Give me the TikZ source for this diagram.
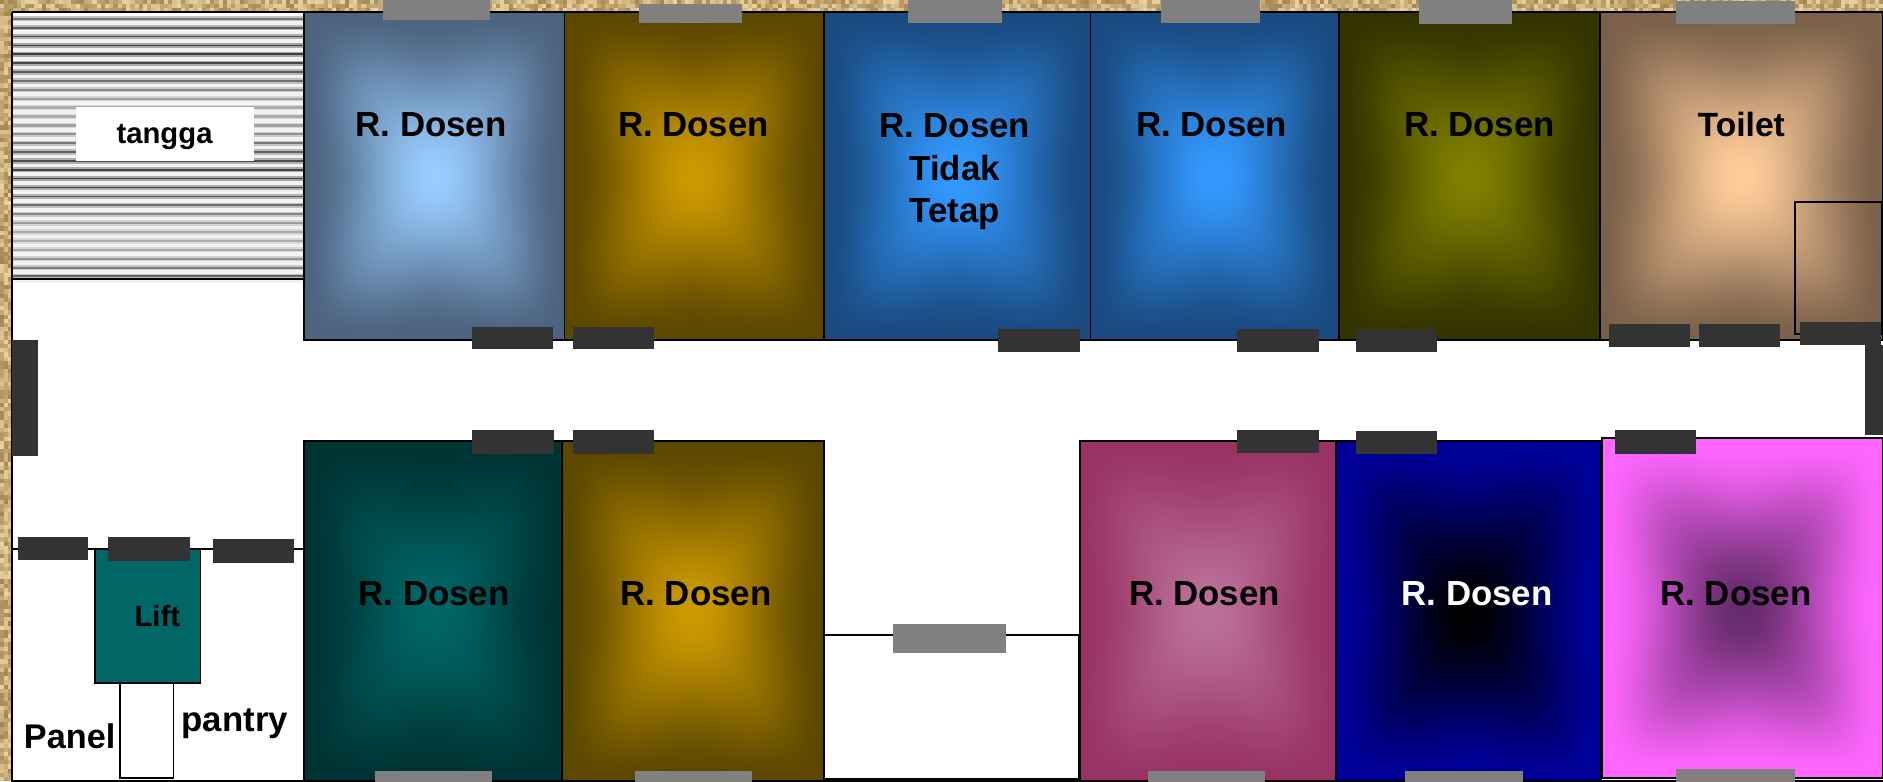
\documentclass[tikz,border=0pt]{standalone}
\usepackage{fontspec}
\setmainfont{Liberation Sans}
\definecolor{texA}{HTML}{EAD3A0}
\definecolor{texB}{HTML}{A38550}
\definecolor{doorc}{HTML}{333333}
\definecolor{winc}{HTML}{808080}
\definecolor{liftc}{HTML}{006666}
% rectangular "from centre" gradient; args: name, outer r g b, inner r g b
\newcommand{\roomshade}[7]{%
  \pgfdeclarefunctionalshading{#1}{\pgfpointorigin}{\pgfpoint{100bp}{100bp}}{}{%
    50 sub abs 25 div exch 50 sub abs 25 div
    1 index dup mul
    1 index dup mul add
    2 index 2 index mul dup mul
    1 4 index sub
    1 4 index sub
    mul 10 mul 1 add mul
    sub abs sqrt
    exch pop exch pop
    dup dup mul exch 2 mul 3 exch sub mul
    dup #2 #5 sub mul #5 add exch
    dup #3 #6 sub mul #6 add exch
    #4 #7 sub mul #7 add
  }}
\roomshade{gA}{0.30}{0.39}{0.50}{0.60}{0.80}{1.00}
\roomshade{gB}{0.36}{0.28}{0.00}{0.80}{0.60}{0.00}
\roomshade{gC}{0.10}{0.29}{0.50}{0.20}{0.60}{1.00}
\roomshade{gD}{0.20}{0.20}{0.00}{0.50}{0.50}{0.00}
\roomshade{gE}{0.48}{0.38}{0.29}{1.00}{0.80}{0.60}
\roomshade{gF}{0.00}{0.20}{0.20}{0.00}{0.40}{0.40}
\roomshade{gG}{0.60}{0.20}{0.40}{0.73}{0.44}{0.60}
\roomshade{gH}{0.00}{0.00}{0.60}{0.00}{0.00}{0.00}
\roomshade{gI}{1.00}{0.40}{1.00}{0.40}{0.17}{0.42}
\tikzset{
  roomlabel/.style={font=\fontsize{29}{35.5}\selectfont\bfseries,align=center,inner sep=0pt},
  smalllabel/.style={font=\fontsize{24.4}{29}\selectfont\bfseries,inner sep=0pt},
  door/.style={fill=doorc},
  window/.style={fill=winc},
  wall/.style={draw=black,line width=1.5pt},
}
\newcommand{\room}[5]{\path[wall,shading=#1] (#2,#3) rectangle (#4,#5);}
\newcommand{\rbox}[5]{\path[#1] (#2,#3) rectangle (#4,#5);}
\begin{document}
\begin{tikzpicture}[x=1pt,y=-1pt]
\useasboundingbox (0,0) rectangle (1568,651.15);
% textured surround
\pgfmathsetseed{4242}
\foreach \xx in {0,3.5,...,1566}{
  \foreach \yy in {0,3.5,7}{
    \pgfmathrandominteger{\rr}{0}{100}
    \fill[texA!\rr!texB] (\xx,\yy) rectangle ++(3.6,3.6);
  }
}
\foreach \yy in {10,13.5,...,650}{
  \foreach \xx in {0,3.5,7}{
    \pgfmathrandominteger{\rr}{0}{100}
    \fill[texA!\rr!texB] (\xx,\yy) rectangle ++(3.6,3.6);
  }
}
% floor
\fill[white] (10,10) rectangle (1568,651.15);
% stairs
\foreach \ii in {0,...,29}{
  \pgfmathsetmacro{\yy}{15.6+7.4*\ii}
  \pgfmathsetmacro{\ang}{(\yy-42)*3.43}
  \pgfmathtruncatemacro{\dk}{55+22*cos(\ang)}
  \pgfmathsetmacro{\wd}{1.7-0.4*cos(\ang)}
  \pgfmathtruncatemacro{\soft}{\dk*0.45}
  \fill[black!\soft] (10.5,\yy-2.2) rectangle (252,\yy+2.2);
  \fill[black!5] (10.5,\yy+2.2) rectangle (252,\yy+5.2);
  \fill[black!\dk] (10.5,\yy-\wd/2) rectangle (252,\yy+\wd/2);
}
\node[fill=white,minimum width=148pt,minimum height=45pt,inner sep=0pt] (tanggabox) at (137.5,111.5) {};
\path[wall] (10,232) -- (253,232);
% rooms, upper row
\room{gA}{253}{10}{470}{283}
\room{gB}{470}{10}{686}{283}
\room{gC}{686}{10}{908}{283}
\room{gC}{908}{10}{1114.5}{283}
\room{gD}{1115}{10}{1332}{283}
\room{gE}{1332}{10}{1568}{283}
\path[wall] (1494.5,168) rectangle (1567,278);
% rooms, lower row
\room{gF}{253}{367.5}{468}{652}
\room{gB}{468}{367.5}{686}{652}
\room{gG}{899}{367.5}{1112}{650}
\room{gH}{1112.5}{367.5}{1333}{651}
\room{gI}{1334}{364.5}{1568}{648}
\path[wall,fill=white] (686.5,529) rectangle (898,649);
% service block
\path[wall] (10,457) -- (253,457);
\path[wall] (10,10) -- (10,651);
\path[wall] (10,10) -- (1568,10);
\path[wall] (10,650.5) -- (1568,650.5);
\path[wall,fill=liftc] (79,457) rectangle (167,569);
\path[wall,fill=white] (100,569) rectangle (144.5,648);
% doors
\rbox{door}{393}{272}{460.5}{291}
\rbox{door}{477}{272}{545}{291}
\rbox{door}{831}{274}{899}{293}
\rbox{door}{1030}{274}{1098}{293}
\rbox{door}{1129}{274}{1197}{293}
\rbox{door}{1340}{270}{1407}{289}
\rbox{door}{1415}{270}{1482}{289}
\rbox{door}{1499}{268}{1566}{287}
\rbox{door}{1553}{287}{1568}{362}
\rbox{door}{10}{283}{32}{380}
\rbox{door}{393}{358}{461}{378}
\rbox{door}{477}{358}{545}{378}
\rbox{door}{1030}{358}{1098}{377}
\rbox{door}{1129}{359}{1197}{378}
\rbox{door}{1345}{358}{1412}{378}
\rbox{door}{15}{447}{73}{466}
\rbox{door}{90}{447}{158}{467}
\rbox{door}{177}{449}{245}{469}
% windows
\rbox{window}{319}{0}{408}{17}
\rbox{window}{532}{3}{618}{19}
\rbox{window}{756}{0}{834}{19}
\rbox{window}{967}{0}{1049}{19}
\rbox{window}{1182}{0}{1259}{20}
\rbox{window}{1396}{1}{1495}{20}
\rbox{window}{744}{520}{838}{544}
\rbox{window}{312}{642}{410}{652}
\rbox{window}{529}{642}{626}{652}
\rbox{window}{956}{642}{1053}{652}
\rbox{window}{1170}{642}{1268}{652}
\rbox{window}{1396}{640}{1495}{652}
% labels
\node[smalllabel] (tangga) at (137,114) {tangga};
\node[roomlabel] (r1) at (359,104) {R. Dosen};
\node[roomlabel] (r2) at (577.5,104) {R. Dosen};
\node[roomlabel] (r3) at (795,143) {R. Dosen\\Tidak\\Tetap};
\node[roomlabel] (r4) at (1009,104) {R. Dosen};
\node[roomlabel] (r5) at (1232,104) {R. Dosen};
\node[roomlabel,font=\fontsize{28}{34}\selectfont\bfseries] (toilet) at (1450,104) {Toilet};
\node[roomlabel] (r6) at (361.5,494) {R. Dosen};
\node[roomlabel] (r7) at (579.5,494) {R. Dosen};
\node[roomlabel] (r8) at (1003,494) {R. Dosen};
\node[roomlabel,text=white] (r9) at (1230,494) {R. Dosen};
\node[roomlabel] (r10) at (1445.5,494) {R. Dosen};
\node[smalllabel] (lift) at (131,513) {Lift};
\node[roomlabel,font=\fontsize{28.5}{34}\selectfont\bfseries] (panel) at (58,613) {Panel};
\node[roomlabel] (pantry) at (195.5,603) {pantry};
\end{tikzpicture}
\end{document}
